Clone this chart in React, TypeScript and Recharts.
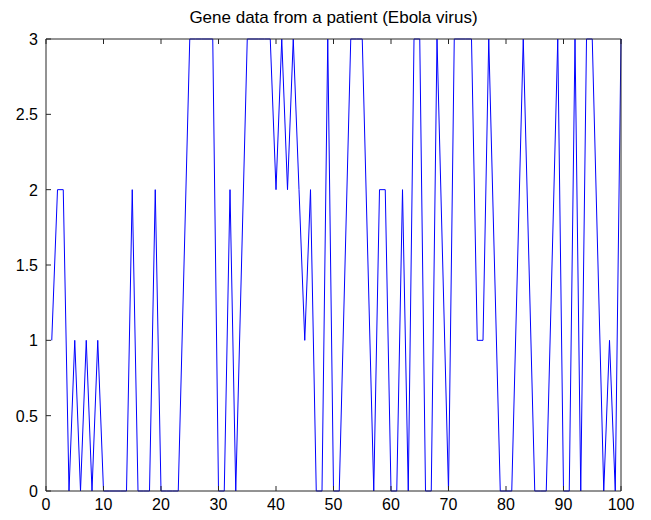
import { Line, LineChart, XAxis, YAxis } from "recharts";

const chartTitle = "Gene data from a patient (Ebola virus)";

// base codes, sample 1..100
const geneValues = [
  1, 2, 2, 0, 1, 0, 1, 0, 1, 0,
  0, 0, 0, 0, 2, 0, 0, 0, 2, 0,
  0, 0, 0, 1.5, 3, 3, 3, 3, 3, 0,
  0, 2, 0, 1.5, 3, 3, 3, 3, 3, 2,
  3, 2, 3, 2, 1, 2, 0, 0, 3, 0,
  0, 1.5, 3, 3, 3, 1.5, 0, 2, 2, 0,
  0, 2, 0, 3, 3, 0, 0, 3, 1.5, 0,
  3, 3, 3, 3, 1, 1, 3, 1.5, 0, 0,
  0, 1.5, 3, 1.5, 0, 0, 0, 1.5, 3, 0,
  0, 3, 0, 3, 3, 1.5, 0, 1, 0, 3,
];

const xTicks = [0, 10, 20, 30, 40, 50, 60, 70, 80, 90, 100];
const yTicks = [0, 0.5, 1, 1.5, 2, 2.5, 3];

const data = geneValues.map((v, i) => ({ x: i + 1, y: v }));

const AXIS = "#262626";
const FONT = "'Liberation Sans', Arial, sans-serif";

const BottomTick = ({ x, y, payload }: any) => (
  <g>
    <line x1={x} x2={x} y1={y} y2={y - 5} stroke={AXIS} />
    <text x={x} y={y + 19} textAnchor="middle" fontSize={16} fontFamily={FONT} fill="#000">
      {payload.value}
    </text>
  </g>
);

const TopTick = ({ x, y }: any) => (
  <line x1={x} x2={x} y1={y} y2={y + 5} stroke={AXIS} />
);

const LeftTick = ({ x, y, payload }: any) => (
  <g>
    <line x1={x} x2={x + 5} y1={y} y2={y} stroke={AXIS} />
    <text x={x - 8} y={y + 6} textAnchor="end" fontSize={16} fontFamily={FONT} fill="#000">
      {payload.value}
    </text>
  </g>
);

const RightTick = ({ x, y }: any) => (
  <line x1={x} x2={x - 5} y1={y} y2={y} stroke={AXIS} />
);

export default function App() {
  return (
    <div style={{ position: "absolute", left: 0, top: 0, width: 651, height: 520, background: "#fff" }}>
      <div
        style={{
          position: "absolute",
          left: 46,
          width: 575,
          top: 8,
          textAlign: "center",
          fontFamily: FONT,
          fontSize: 17,
          color: "#000",
        }}
      >
        {chartTitle}
      </div>
      <LineChart width={651} height={520} data={data} margin={{ top: 38, right: 29, bottom: 28, left: 45 }}>
        <XAxis
          xAxisId="b"
          type="number"
          dataKey="x"
          domain={[0, 100]}
          ticks={xTicks}
          height={1}
          tickSize={0}
          tickMargin={0}
          tickLine={false}
          stroke={AXIS}
          tick={BottomTick}
          interval={0}
        />
        <XAxis
          xAxisId="t"
          orientation="top"
          type="number"
          dataKey="x"
          domain={[0, 100]}
          ticks={xTicks}
          height={1}
          tickSize={0}
          tickMargin={0}
          tickLine={false}
          stroke={AXIS}
          tick={TopTick}
          interval={0}
        />
        <YAxis
          yAxisId="l"
          type="number"
          domain={[0, 3]}
          ticks={yTicks}
          width={1}
          tickSize={0}
          tickMargin={0}
          tickLine={false}
          stroke={AXIS}
          tick={LeftTick}
          interval={0}
        />
        <YAxis
          yAxisId="r"
          orientation="right"
          type="number"
          domain={[0, 3]}
          ticks={yTicks}
          width={1}
          tickSize={0}
          tickMargin={0}
          tickLine={false}
          stroke={AXIS}
          tick={RightTick}
          interval={0}
        />
        <Line
          xAxisId="b"
          yAxisId="l"
          type="linear"
          dataKey="y"
          stroke="#0000ff"
          strokeWidth={1}
          dot={false}
          isAnimationActive={false}
        />
      </LineChart>
    </div>
  );
}
